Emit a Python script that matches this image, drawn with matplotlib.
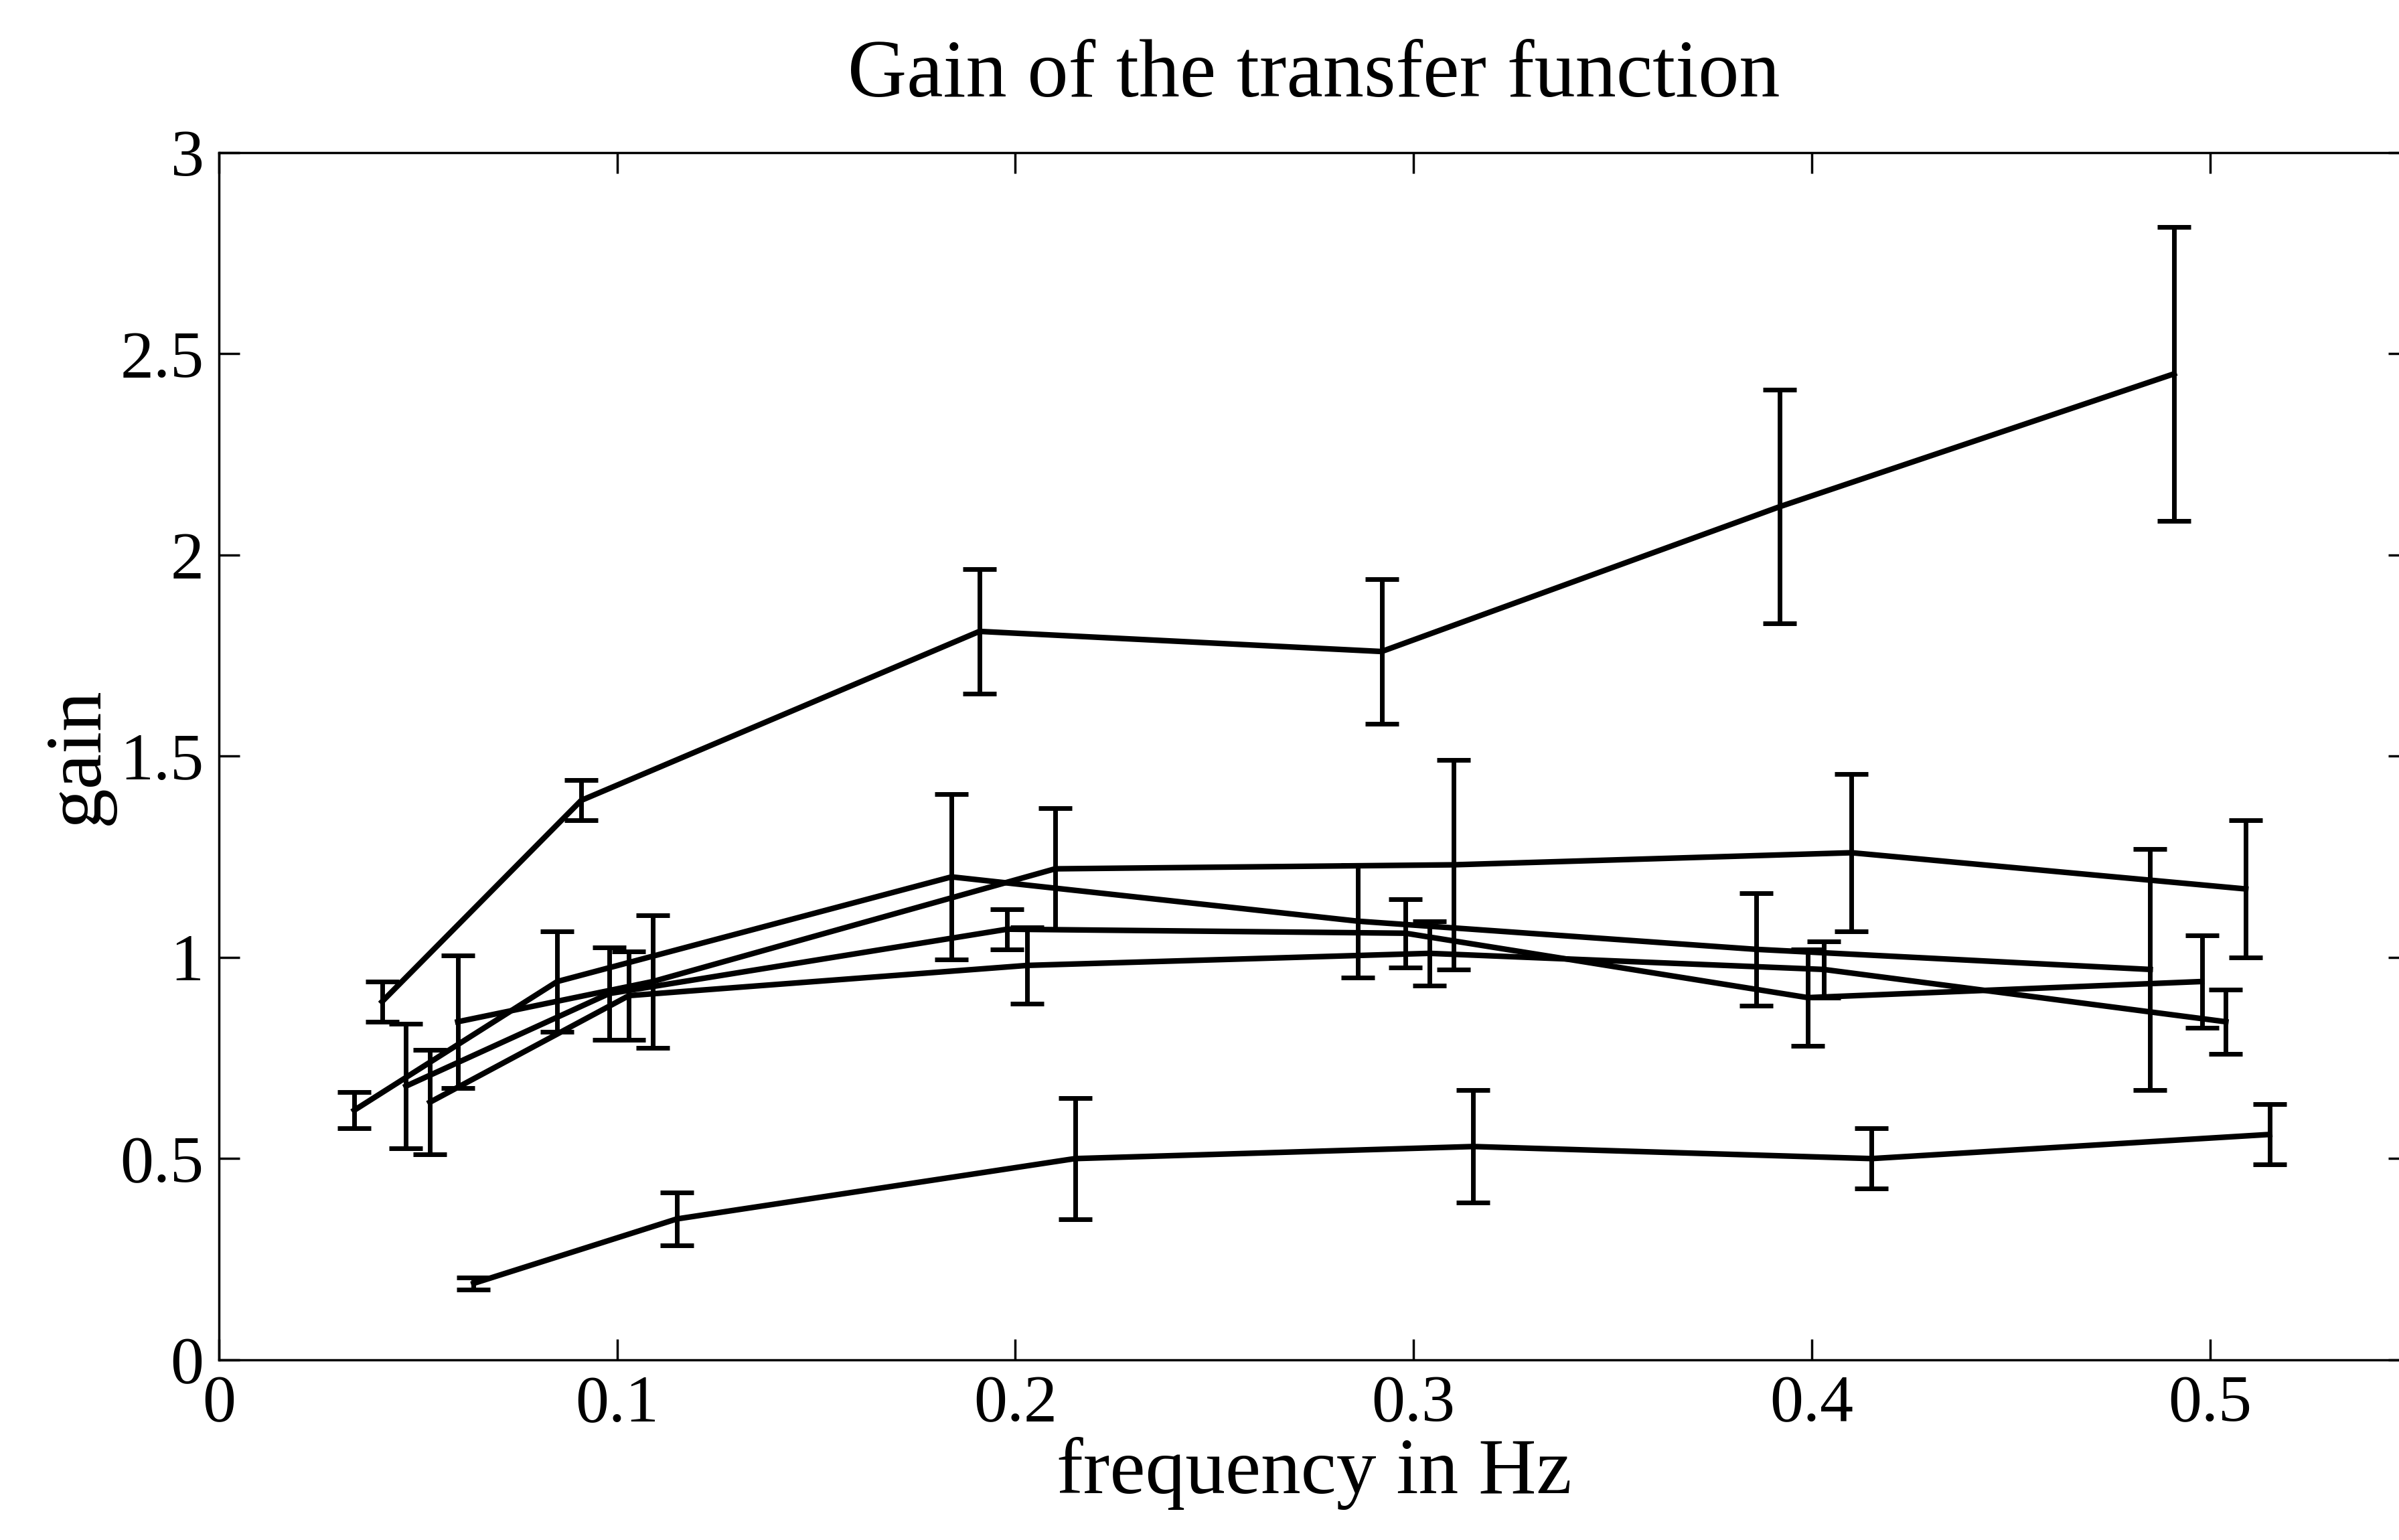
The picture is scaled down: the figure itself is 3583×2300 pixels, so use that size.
import matplotlib
matplotlib.use("Agg")
import matplotlib.pyplot as plt

plt.rcParams['font.family'] = ['Liberation Serif', 'DejaVu Serif']

# top series
freq_a = [0.041, 0.091, 0.191, 0.292, 0.392, 0.491]
gain_a = [0.89, 1.39, 1.81, 1.76, 2.12, 2.45]
err_a = [0.05, 0.05, 0.155, 0.18, 0.29, 0.365]

# middle series
freq_b = [0.053, 0.103, 0.203, 0.304, 0.403, 0.504]
gain_b = [0.64, 0.905, 0.98, 1.01, 0.97, 0.84]
err_b = [0.13, 0.11, 0.095, 0.08, 0.07, 0.08]

freq_c = [0.047, 0.098, 0.198, 0.298, 0.399, 0.498]
gain_c = [0.68, 0.91, 1.07, 1.06, 0.90, 0.94]
err_c = [0.155, 0.115, 0.05, 0.085, 0.12, 0.115]

freq_d = [0.034, 0.085, 0.184, 0.286, 0.386, 0.485]
gain_d = [0.62, 0.94, 1.20, 1.09, 1.02, 0.97]
err_d = [0.045, 0.125, 0.205, 0.14, 0.14, 0.30]

freq_e = [0.060, 0.109, 0.210, 0.310, 0.410, 0.509]
gain_e = [0.84, 0.94, 1.22, 1.23, 1.26, 1.17]
err_e = [0.165, 0.165, 0.15, 0.26, 0.195, 0.17]

# bottom series
freq_f = [0.064, 0.115, 0.215, 0.315, 0.415, 0.515]
gain_f = [0.19, 0.35, 0.50, 0.53, 0.50, 0.56]
err_f = [0.015, 0.065, 0.15, 0.14, 0.075, 0.075]

series = [
    (freq_a, gain_a, err_a),
    (freq_b, gain_b, err_b),
    (freq_c, gain_c, err_c),
    (freq_d, gain_d, err_d),
    (freq_e, gain_e, err_e),
    (freq_f, gain_f, err_f),
]

xticks = [0, 0.1, 0.2, 0.3, 0.4, 0.5]
xticklabels = ['0', '0.1', '0.2', '0.3', '0.4', '0.5']
yticks = [0, 0.5, 1, 1.5, 2, 2.5, 3]
yticklabels = ['0', '0.5', '1', '1.5', '2', '2.5', '3']

fig = plt.figure(figsize=(35.83, 23.0), dpi=100)
ax = fig.add_axes([0.0912, 0.117, 0.913, 0.784])

for fx, gy, er in series:
    ax.errorbar(fx, gy, yerr=er, color='black', linewidth=6, elinewidth=5,
                capsize=18, capthick=5)

ax.set_xlim(0, 0.55)
ax.set_ylim(0, 3)
ax.set_xticks(xticks)
ax.set_xticklabels(xticklabels)
ax.set_yticks(yticks)
ax.set_yticklabels(yticklabels)
ax.tick_params(direction='in', top=True, right=True, length=22, width=2.5,
               labelsize=72, pad=16)
for s in ax.spines.values():
    s.set_linewidth(2.5)

ax.set_title('Gain of the transfer function', fontsize=88, pad=60)
ax.set_xlabel('frequency in Hz', fontsize=86, labelpad=2)
ax.set_ylabel('gain', fontsize=86, labelpad=6)

fig.savefig('out.png', dpi=100, facecolor='white')
